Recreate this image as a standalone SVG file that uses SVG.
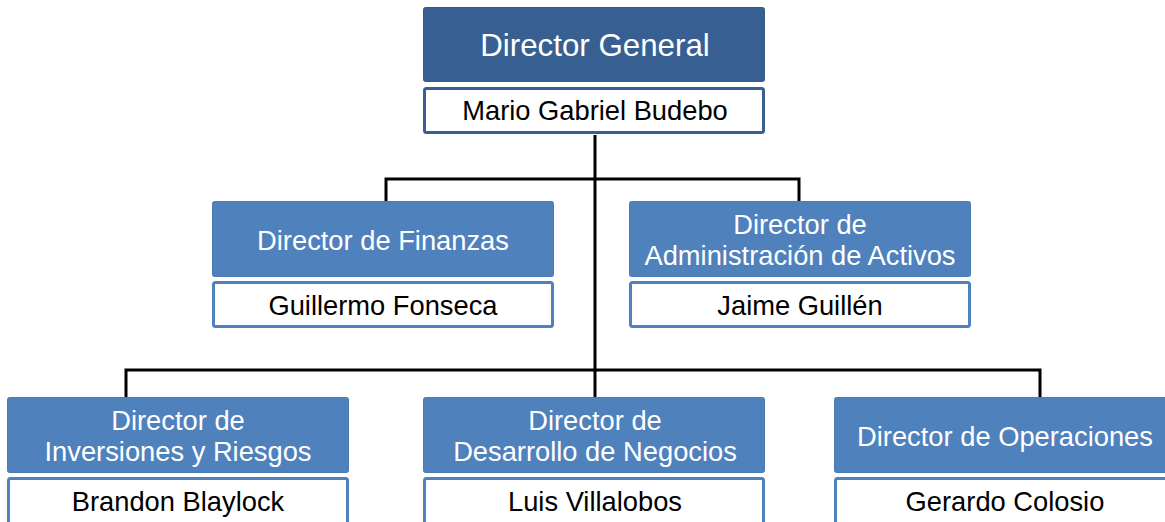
<svg xmlns="http://www.w3.org/2000/svg" width="1165" height="522" viewBox="0 0 1165 522">
<style>
.t{fill:#4F81BD;stroke:#4A7AB4;stroke-width:1}
.td{fill:#375F91;stroke:#345A89;stroke-width:1}
.n{fill:#fff;stroke:#4F81BD;stroke-width:3}
.nd{fill:#fff;stroke:#375F91;stroke-width:3}
.wt{font-family:"Liberation Sans",Arial,sans-serif;font-size:27.3px;fill:#fff;text-anchor:middle}
.bt{font-family:"Liberation Sans",Arial,sans-serif;font-size:27.3px;fill:#000;text-anchor:middle}
.c{fill:none;stroke:#000;stroke-width:3}
</style>
<rect width="1165" height="522" fill="#fff"/>
<g id="connectors">
<path class="c" d="M595 135 V372"/>
<path class="c" d="M386 201 V179 H799 V201"/>
<path class="c" d="M126 397 V370 H1040 V397"/>
<path class="c" d="M595 370 V397"/>
</g>
<g id="n-general">
<rect class="td" x="423.5" y="7.5" width="341" height="74" rx="2"/>
<text class="wt" x="595" y="56" style="font-size:31.3px">Director General</text>
<rect class="nd" x="424.5" y="88.5" width="339" height="44" rx="2"/>
<text class="bt" x="595" y="120">Mario Gabriel Budebo</text>
</g>
<g id="n-finanzas">
<rect class="t" x="212.5" y="201.5" width="341" height="75" rx="2"/>
<text class="wt" x="383" y="250">Director de Finanzas</text>
<rect class="n" x="213.5" y="282.5" width="339" height="44" rx="2"/>
<text class="bt" x="383" y="315">Guillermo Fonseca</text>
</g>
<g id="n-activos">
<rect class="t" x="629.5" y="201.5" width="341" height="75" rx="2"/>
<text class="wt" x="800" y="234">Director de</text>
<text class="wt" x="800" y="265">Administración de Activos</text>
<rect class="n" x="630.5" y="282.5" width="339" height="44" rx="2"/>
<text class="bt" x="800" y="315">Jaime Guillén</text>
</g>
<g id="n-inversiones">
<rect class="t" x="7.5" y="397.5" width="341" height="75" rx="2"/>
<text class="wt" x="178" y="430">Director de</text>
<text class="wt" x="178" y="461">Inversiones y Riesgos</text>
<rect class="n" x="8.5" y="478.5" width="339" height="46" rx="2"/>
<text class="bt" x="178" y="511">Brandon Blaylock</text>
</g>
<g id="n-negocios">
<rect class="t" x="423.5" y="397.5" width="341" height="75" rx="2"/>
<text class="wt" x="595" y="430">Director de</text>
<text class="wt" x="595" y="461">Desarrollo de Negocios</text>
<rect class="n" x="424.5" y="478.5" width="339" height="46" rx="2"/>
<text class="bt" x="595" y="511">Luis Villalobos</text>
</g>
<g id="n-operaciones">
<rect class="t" x="834.5" y="397.5" width="341" height="75" rx="2"/>
<text class="wt" x="1005" y="446">Director de Operaciones</text>
<rect class="n" x="835.5" y="478.5" width="339" height="46" rx="2"/>
<text class="bt" x="1005" y="511">Gerardo Colosio</text>
</g>
</svg>
